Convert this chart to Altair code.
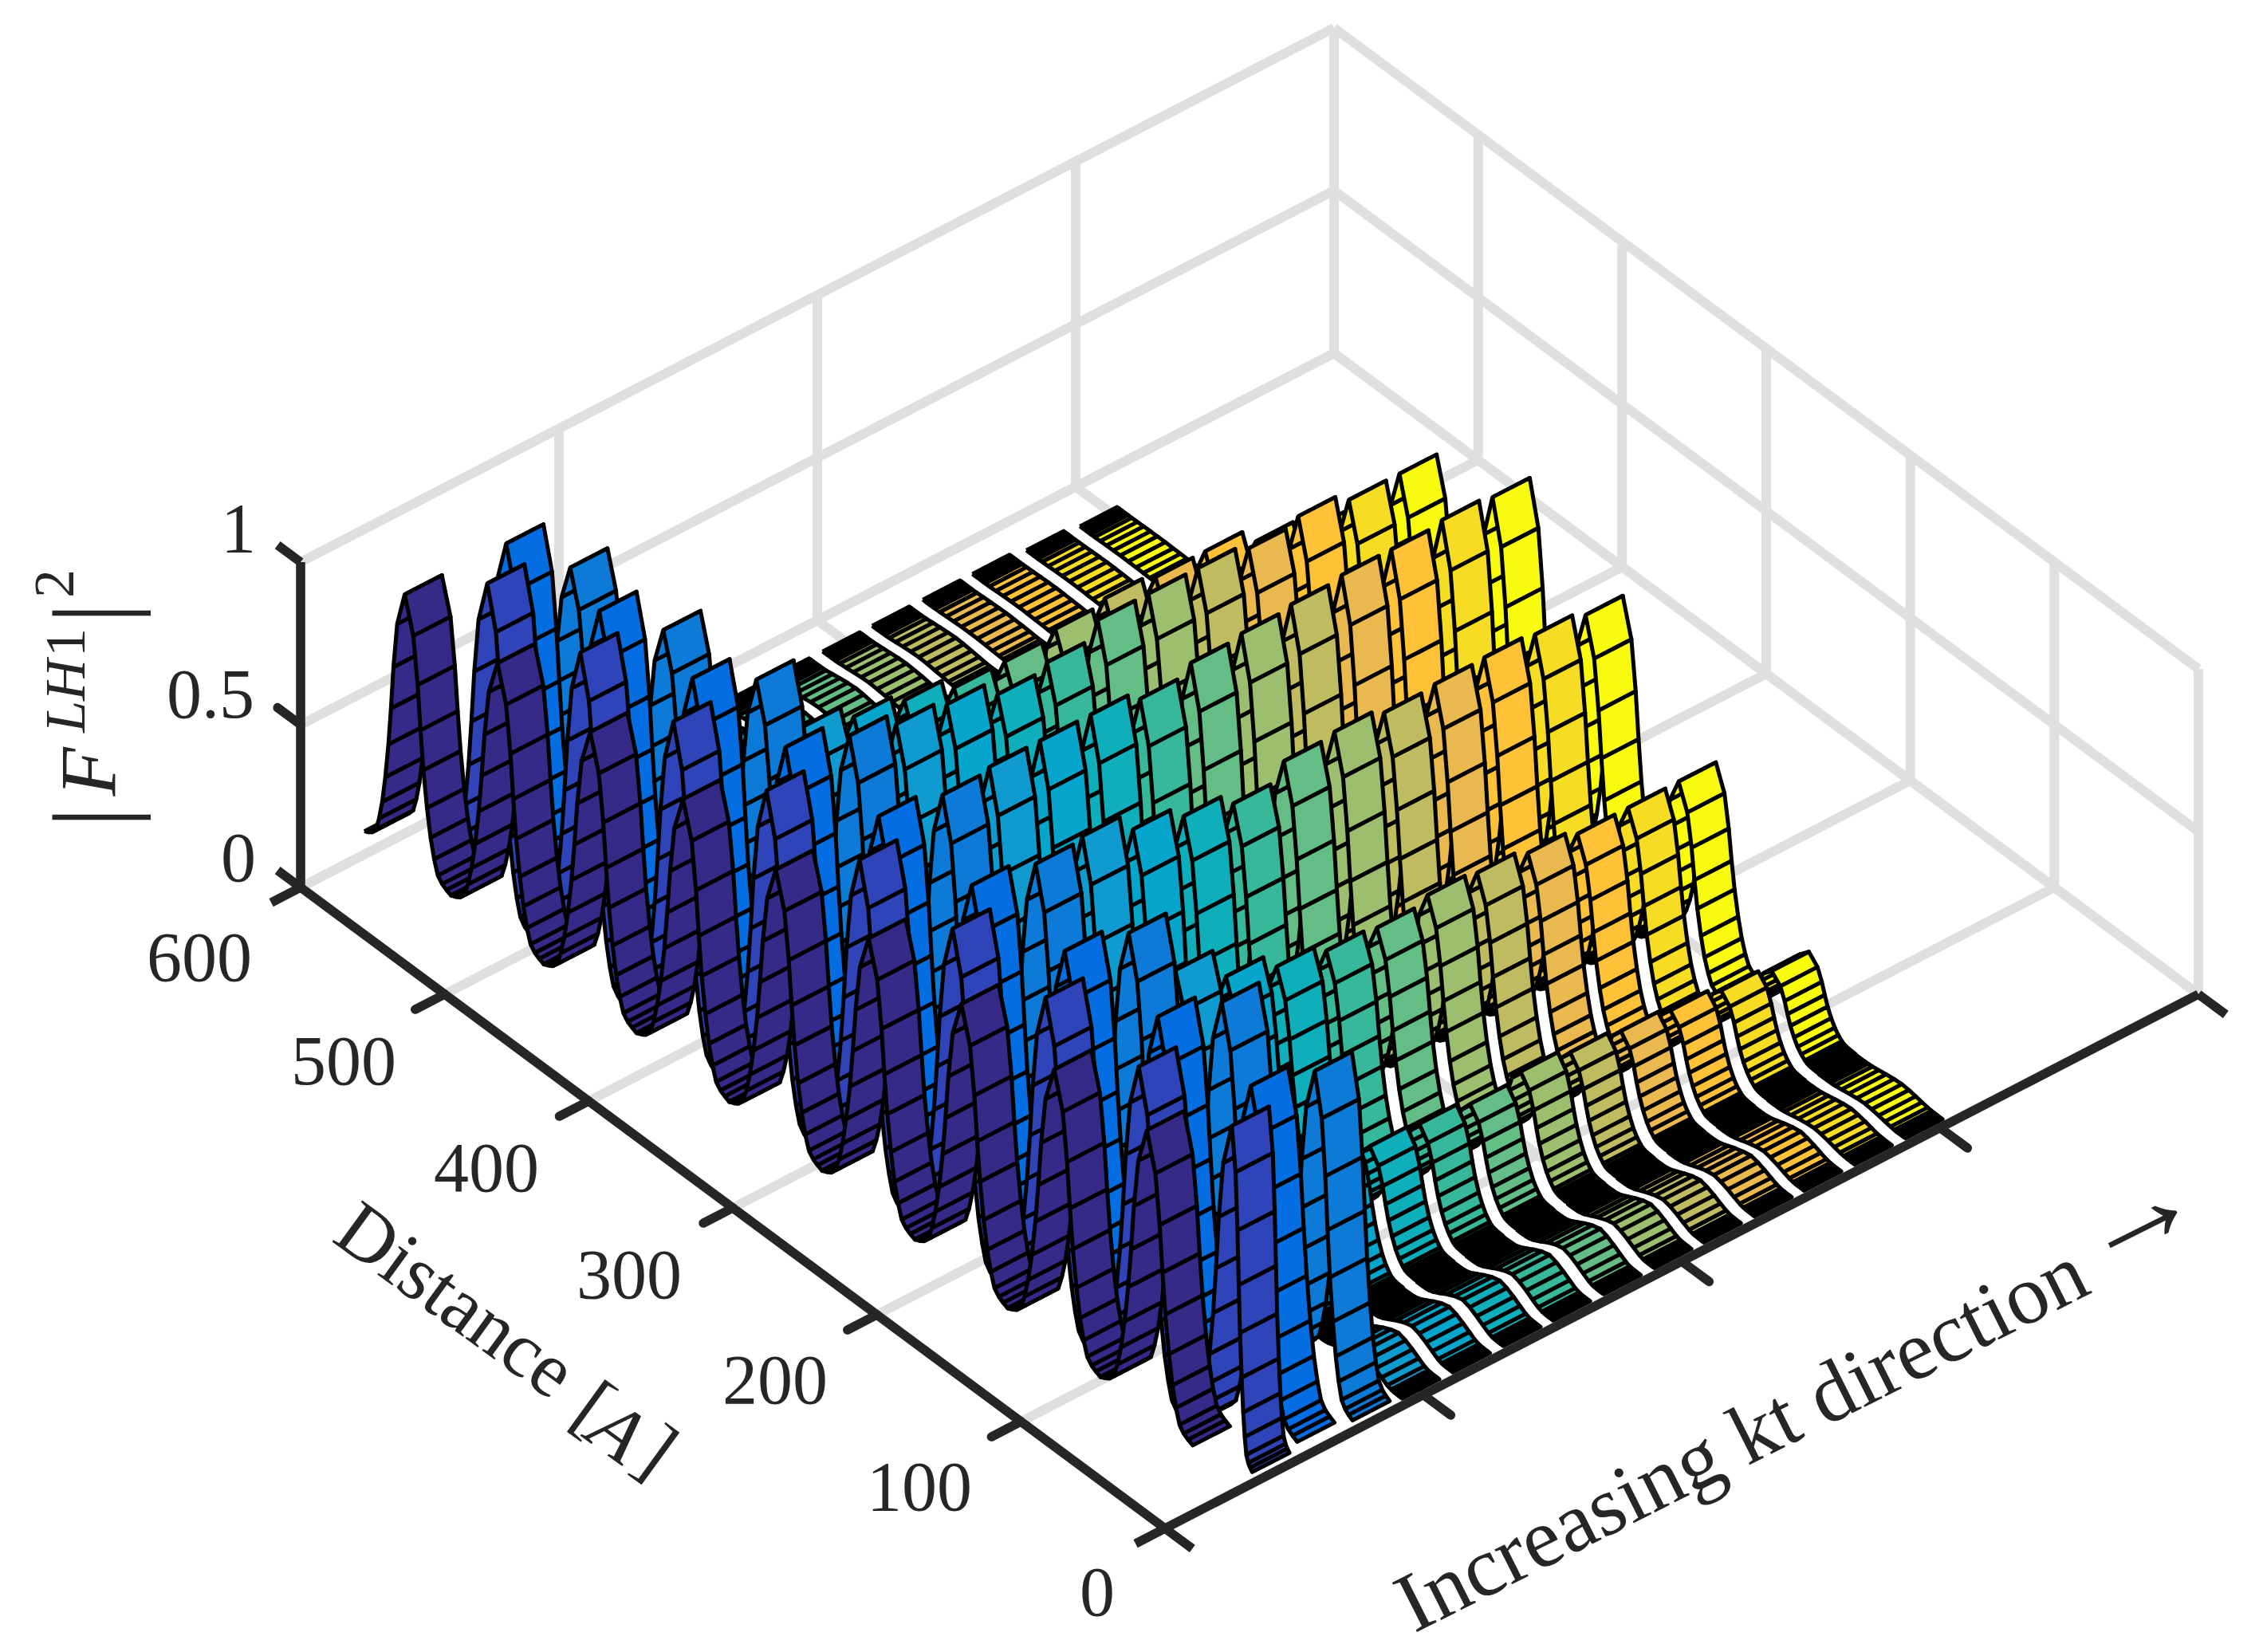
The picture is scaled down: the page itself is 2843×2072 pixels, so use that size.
import altair as alt
import pandas as pd

alt.data_transformers.disable_max_rows()

# kt position of each ribbon's near edge, as a fraction of the kt axis
RIBBON_KT = [.077, .090, .139, .187, .235, .284, .333, .381, .430, .479, .527, .576, .624, .673, .722]
RIBBON_WIDTH = .036
COLORS = ["#352a87", "#2f44b9", "#056de2", "#0e7ad8", "#0f9ad0", "#05a5cc", "#0eafba", "#38b89a",
          "#64bd85", "#9cbe6f", "#bfbb60", "#e9b84f", "#ffc137", "#f6dc22", "#f9fb0e"]
# distance range of each ribbon
RIBBON_START = [611, 588, 599, 599, 584, 584, 584, 584, 584, 582, 582, 582, 582, 579, 577]
RIBBON_END = [36, 4, 4, 4, 4, 4, 4, 4, 4, 4, 4, 4, 4, 4, 4]
# distance of the first (farthest) well in each ribbon
FIRST_WELL = [583, 535, 557, 547, 549, 549, 549, 549, 549, 549, 549, 549, 549, 549, 549]
WELL_SPACING = [64.4, 64.6, 64.6, 64.6, 64.6, 64.6, 64.6, 64.6, 64.6, 64.6, 64.6, 64.6, 64.6, 64.6, 64.6]
# peak of |F|^2 in each well, far to near
PEAKS = [
    [.83, .83, .83, .835, .83, .83, .84, .85, .875],
    [1.0, 1.0, 1.0, 1.0, 1.0, 1.0, 1.0, 1.0, 1.03],
    [.97, .975, .98, .98, .98, .98, .99, 1.0, 1.0],
    [.85, .87, .93, .97, 1.0, 1.0, 1.0, 1.0, 1.0],
    [.10, .35, .70, .92, 1.0, 1.0, .80, .40, .05],
    [.05, .30, .65, .90, 1.0, .94, .70, .35, .05],
    [.03, .25, .62, .85, 1.0, .90, .65, .31, .05],
    [.02, .20, .58, .87, .97, .86, .62, .30, .05],
    [.015, .12, .58, .92, 1.0, .91, .61, .28, .05],
    [.01, .08, .60, .92, 1.01, .92, .63, .30, .045],
    [.01, .06, .615, .92, 1.02, .90, .62, .28, .04],
    [.005, .04, .60, .90, 1.03, .907, .60, .265, .035],
    [.004, .025, .60, .92, 1.03, .91, .58, .25, .03],
    [.003, .012, .55, .89, 1.04, .90, .58, .23, .02],
    [.002, .006, .50, .89, 1.03, .88, .58, .21, .015],
]
# shapes of one well: offset in A, share of the peak
TALL_OFFSET = [0, 6, 9, 11, 13, 15.5, 18, 20.5, 23, 24.5, 26, 27.5, 29, 30.5, 32.3]
TALL_SHARE = [1, .87, .70, .54, .40, .27, .17, .10, .05, .03, .02, .015, .012, .01, .01]
LOW_OFFSET = [0, 5.5, 11, 16, 20.5, 23.5, 25, 26.5, 28, 29.5, 31, 32.3]
LOW_SHARE = [1, .86, .62, .36, .14, .05, .03, .02, .015, .012, .01, .01]
OPEN_OFFSET = [0, 6, 9, 11, 13, 15.5, 18, 20.5, 23, 26, 29, 32.3]
OPEN_SHARE = [1, .87, .70, .54, .40, .27, .17, .10, .05, .03, .02, .012]
OPEN_RIBBONS = 4   # the first ribbons keep open valleys, without a black band

Z_TICKS = [0, .5, 1]
D_TICKS = [0, 100, 200, 300, 400, 500, 600]
K_GRID = [0, .25, .5, .75, 1]
Z_LABELS = ["0", "0.5", "1"]
Z_LABEL_POS = [(299, 1079), (264, 874), (299, 666)]
D_LABEL_POS = [(1376, 2000), (1153, 1868), (972, 1734), (789, 1602), (610, 1468), (431, 1334), (250, 1204)]


def project(a, d, z):
    b = d / 600
    return 1461 + 1296 * a - 1084 * b, 1917 - 670 * a - 804 * b - 408 * z


def profile(i):
    nodes = []
    wells = [FIRST_WELL[i] - n * WELL_SPACING[i] for n in range(len(PEAKS[i]))]
    start, end = RIBBON_START[i], RIBBON_END[i]
    for n, (c, h) in enumerate(zip(wells, PEAKS[i])):
        if i < OPEN_RIBBONS or h >= .5:
            off, share = OPEN_OFFSET, OPEN_SHARE
        elif h < .2:
            off, share = LOW_OFFSET, LOW_SHARE
        else:
            off, share = TALL_OFFSET, TALL_SHARE
        back = min(1, (start - c) / 32.3) if n == 0 else 1
        front = min(1, (c - end) / 32.3) if n == len(wells) - 1 else 1
        for o, s in zip(off[::-1], share[::-1]):
            nodes.append((c + o * back, h * s))
        for o, s in list(zip(off, share))[1:]:
            nodes.append((c - o * front, h * s))
    return nodes


rows = []
qid = 0
for i in range(len(RIBBON_KT) - 1, -1, -1):
    nodes = profile(i)
    a0, a1 = RIBBON_KT[i], RIBBON_KT[i] + RIBBON_WIDTH
    for (d0, z0), (d1, z1) in zip(nodes[:-1], nodes[1:]):
        if abs(d0 - d1) < 1e-6:
            continue
        for k, (a, d, z) in enumerate([(a0, d0, z0), (a1, d0, z0), (a1, d1, z1), (a0, d1, z1), (a0, d0, z0)]):
            sx, sy = project(a, d, z)
            rows.append({"sx": round(sx, 1), "sy": round(sy, 1), "q": qid, "v": k, "c": COLORS[i]})
        qid += 1
surface = pd.DataFrame(rows)

grid_rows = []
axis_rows = []
tick_rows = []


def seg(store, name, p, q):
    for v, (a, d, z) in enumerate([p, q]):
        sx, sy = project(a, d, z)
        store.append({"sx": sx, "sy": sy, "s": name, "v": v})


for a in K_GRID:
    seg(grid_rows, f"kw{a}", (a, 600, 0), (a, 600, 1))
    seg(grid_rows, f"kf{a}", (a, 0, 0), (a, 600, 0))
for d in D_TICKS:
    seg(grid_rows, f"dw{d}", (1, d, 0), (1, d, 1))
    seg(grid_rows, f"df{d}", (0, d, 0), (1, d, 0))
for z in Z_TICKS:
    seg(grid_rows, f"zw{z}", (0, 600, z), (1, 600, z))
    seg(grid_rows, f"zr{z}", (1, 600, z), (1, 0, z))
seg(axis_rows, "zaxis", (0, 600, 0), (0, 600, 1))
seg(axis_rows, "daxis", (0, 600, 0), (0, 0, 0))
seg(axis_rows, "kaxis", (0, 0, 0), (1, 0, 0))
for z in Z_TICKS:
    seg(axis_rows if z != .5 else tick_rows, f"zt{z}", (0, 600, z), (0, 616, z))
for d in D_TICKS:
    seg(axis_rows if d in (0, 600) else tick_rows, f"dt{d}", (0, d, 0), (-.0285, d, 0))
for a in K_GRID:
    seg(axis_rows if a in (0, 1) else tick_rows, f"kt{a}", (a, 0, 0), (a, -19, 0))

texts = []
for t, (x, y) in zip(Z_LABELS, Z_LABEL_POS):
    texts.append(dict(t=t, sx=x, sy=y, ang=0, fs=88, st="normal"))
for d, (x, y) in zip(D_TICKS, D_LABEL_POS):
    texts.append(dict(t=str(d), sx=x, sy=y, ang=0, fs=88, st="normal"))
texts += [
    dict(t="Distance", sx=570, sy=1633, ang=36, fs=98, st="normal"),
    dict(t="[", sx=743, sy=1767, ang=36, fs=98, st="normal"),
    dict(t="A", sx=773, sy=1798, ang=36, fs=98, st="italic"),
    dict(t="]", sx=822, sy=1823, ang=36, fs=98, st="normal"),
    dict(t="Increasing kt direction", sx=2185, sy=1806, ang=333.3, fs=106, st="normal"),
    dict(t="→", sx=2678, sy=1522, ang=333.3, fs=160, st="normal"),
    dict(t="|", sx=119, sy=1025, ang=270, fs=135, st="normal"),
    dict(t="F", sx=114, sy=968, ang=270, fs=100, st="italic"),
    dict(t="LH", sx=84, sy=873, ang=270, fs=72, st="italic"),
    dict(t="1", sx=84, sy=806, ang=270, fs=72, st="normal"),
    dict(t="|", sx=119, sy=769, ang=270, fs=135, st="normal"),
    dict(t="2", sx=70, sy=732, ang=270, fs=72, st="normal"),
]
text_df = pd.DataFrame(texts)

xs = alt.X("sx:Q", axis=None, scale=alt.Scale(domain=[8, 2835], nice=False, zero=False))
ys = alt.Y("sy:Q", axis=None, scale=alt.Scale(domain=[2064, 8], nice=False, zero=False))

grid = alt.Chart(pd.DataFrame(grid_rows)).mark_line(color="#dfdfdf", strokeWidth=12, strokeCap="butt").encode(
    x=xs, y=ys, detail="s:N", order="v:Q")
ribbons = alt.Chart(surface).mark_line(strokeWidth=5, strokeJoin="round").encode(
    x=xs, y=ys, detail="q:N", order="v:Q",
    fill=alt.Fill("c:N", scale=None), stroke=alt.value("#000000"))
axes = alt.Chart(pd.DataFrame(axis_rows)).mark_line(color="#262626", strokeWidth=11.5, strokeCap="butt").encode(
    x=xs, y=ys, detail="s:N", order="v:Q")
ticks = alt.Chart(pd.DataFrame(tick_rows)).mark_line(color="#262626", strokeWidth=11.5, strokeCap="round").encode(
    x=xs, y=ys, detail="s:N", order="v:Q")

layers = [grid, ribbons, axes, ticks]
for (ang, fs, st), g in text_df.groupby(["ang", "fs", "st"]):
    layers.append(alt.Chart(g).mark_text(font="Liberation Serif", fontSize=fs, fontStyle=st, angle=ang,
                                         color="#262626", align="center", baseline="middle").encode(
        x=xs, y=ys, text="t:N"))

chart = alt.layer(*layers).properties(width=2827, height=2056, padding=0, background="white").configure_view(stroke=None)
chart.save("out.html", embed_options={"renderer": "svg", "actions": False})
